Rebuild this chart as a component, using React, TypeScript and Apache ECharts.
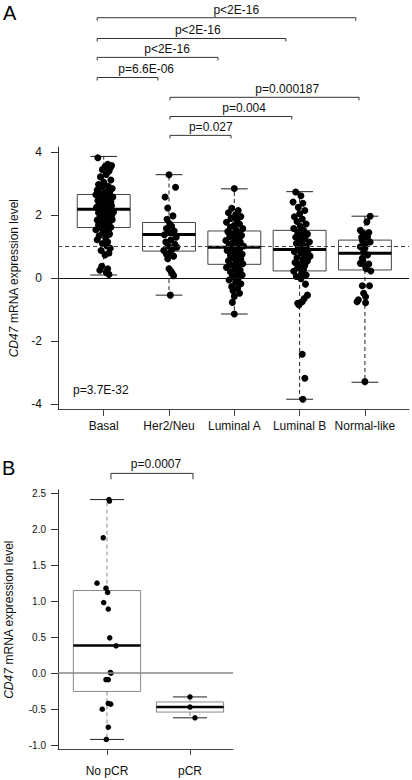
import React, { useEffect, useRef } from "react";
import * as echarts from "echarts";

const FONT = "'Liberation Sans', Arial, Helvetica, sans-serif";

// ---------- Panel A data ----------
const groupsA = ["Basal", "Her2/Neu", "Luminal A", "Luminal B", "Normal-like"];
// [min, q1, median, q3, max]
const boxStatsA = [
  [0.1, 1.61, 2.19, 2.66, 3.87],
  [-0.54, 0.86, 1.39, 1.77, 3.29],
  [-1.14, 0.44, 0.98, 1.5, 2.84],
  [-3.85, 0.23, 0.91, 1.52, 2.75],
  [-3.31, 0.26, 0.79, 1.21, 1.97],
];
// [horizontal jitter, value]
const basalPts = [
  [-0.09, 3.83], [0.06, 3.62], [0.12, 3.58], [0.02, 3.55], [0.1, 3.5], [-0.02, 3.45], [0.08, 3.4], [0.04, 3.3],
  [-0.05, 3.22], [0.11, 3.12], [0.0, 3.05], [-0.08, 2.98], [0.07, 2.92], [-0.03, 2.9], [0.13, 2.85], [-0.1, 2.8],
  [0.03, 2.75], [0.09, 2.72], [-0.06, 2.7], [0.01, 2.68], [-0.12, 2.65], [0.05, 2.62], [0.14, 2.58], [-0.04, 2.55],
  [0.08, 2.5], [-0.09, 2.46], [0.02, 2.45], [0.11, 2.42], [-0.01, 2.38], [0.06, 2.35], [-0.07, 2.35], [0.12, 2.3],
  [0.0, 2.26], [-0.11, 2.25], [0.04, 2.22], [0.09, 2.2], [-0.05, 2.16], [0.02, 2.12], [0.15, 2.1], [-0.08, 2.08],
  [0.06, 2.04], [0.12, 2.0], [-0.02, 1.97], [0.1, 1.95], [-0.06, 1.93], [0.03, 1.9], [0.13, 1.86], [-0.1, 1.85],
  [0.05, 1.82], [-0.03, 1.78], [0.08, 1.74], [-0.08, 1.7], [0.01, 1.66], [0.11, 1.62], [-0.05, 1.6], [0.04, 1.58],
  [-0.12, 1.54], [0.07, 1.5], [-0.01, 1.45], [0.09, 1.4], [-0.07, 1.35], [0.03, 1.28], [-0.1, 1.22], [0.06, 1.15],
  [-0.02, 1.1], [0.05, 1.02], [0.1, 0.95], [-0.04, 0.88], [0.08, 0.8], [0.02, 0.74], [-0.03, 0.38], [0.06, 0.3],
  [-0.06, 0.25], [0.04, 0.18], [0.08, 0.12],
];
const her2Pts = [
  [0.0, 3.29], [0.1, 2.89], [-0.06, 2.58], [-0.02, 2.23], [0.06, 1.98], [-0.03, 1.87], [0.01, 1.73], [0.04, 1.65],
  [-0.04, 1.58], [0.08, 1.5], [0.0, 1.45], [-0.07, 1.38], [0.11, 1.3], [0.03, 1.22], [-0.05, 1.15], [0.09, 1.08],
  [-0.01, 1.02], [0.12, 0.98], [0.05, 0.92], [-0.08, 0.88], [0.02, 0.82], [-0.04, 0.76], [0.07, 0.7], [-0.02, 0.62],
  [0.0, 0.3], [0.03, 0.22], [0.05, 0.15], [0.07, 0.08], [0.02, -0.54],
];
const lumAPts = [
  [0.0, 2.85], [-0.04, 2.22], [0.06, 2.15], [-0.09, 2.08], [0.02, 2.02], [0.1, 1.96], [-0.05, 1.9], [0.04, 1.85],
  [-0.12, 1.78], [0.08, 1.72], [0.0, 1.68], [-0.06, 1.62], [0.13, 1.58], [0.03, 1.52], [-0.1, 1.48], [0.07, 1.44],
  [-0.02, 1.4], [0.11, 1.36], [-0.07, 1.32], [0.05, 1.28], [0.01, 1.24], [-0.13, 1.2], [0.09, 1.16], [-0.03, 1.12],
  [0.06, 1.08], [-0.08, 1.05], [0.14, 1.02], [0.02, 0.98], [-0.05, 0.95], [0.08, 0.92], [-0.11, 0.88], [0.04, 0.85],
  [0.0, 0.8], [0.12, 0.76], [-0.06, 0.72], [0.06, 0.68], [-0.02, 0.64], [0.1, 0.6], [-0.09, 0.55], [0.03, 0.5],
  [0.13, 0.46], [-0.04, 0.42], [0.07, 0.38], [-0.12, 0.34], [0.01, 0.3], [0.09, 0.25], [-0.06, 0.2], [0.04, 0.15],
  [0.12, 0.1], [-0.03, 0.05], [0.06, 0.0], [-0.08, -0.06], [0.02, -0.12], [0.1, -0.18], [-0.04, -0.27], [0.05, -0.32],
  [-0.02, -0.4], [0.08, -0.48], [0.0, -0.58], [-0.03, -0.77], [0.0, -1.14],
];
const lumBPts = [
  [-0.06, 2.74], [0.02, 2.62], [-0.1, 2.42], [0.05, 2.38], [-0.02, 2.25], [0.08, 2.15], [0.0, 2.05], [-0.08, 1.95],
  [0.04, 1.88], [-0.04, 1.8], [0.1, 1.72], [0.01, 1.65], [-0.09, 1.58], [0.06, 1.52], [-0.03, 1.46], [0.12, 1.4],
  [0.03, 1.35], [-0.06, 1.3], [0.08, 1.25], [0.0, 1.2], [0.15, 1.15], [-0.05, 1.1], [0.05, 1.05], [0.1, 1.0],
  [-0.02, 0.96], [0.07, 0.92], [0.13, 0.88], [-0.08, 0.84], [0.02, 0.8], [0.09, 0.75], [0.16, 0.7], [-0.04, 0.65],
  [0.05, 0.6], [0.12, 0.55], [-0.07, 0.5], [0.01, 0.45], [0.08, 0.4], [-0.03, 0.34], [0.06, 0.28], [-0.09, 0.22],
  [0.03, 0.16], [0.1, 0.1], [-0.05, 0.05], [0.02, -0.02], [0.09, -0.19], [0.12, -0.54], [0.07, -0.65],
  [-0.03, -0.8], [0.04, -0.75], [-0.01, -0.85], [0.04, -2.42], [0.08, -3.18], [0.05, -3.85],
];
const normalPts = [
  [0.08, 1.97], [0.03, 1.79], [-0.07, 1.52], [0.06, 1.45], [-0.02, 1.41], [0.04, 1.31], [-0.05, 1.3], [-0.04, 1.2],
  [0.08, 1.15], [0.01, 1.09], [-0.07, 1.0], [0.0, 0.95], [-0.02, 0.84], [0.04, 0.74], [-0.04, 0.63], [-0.03, 0.55],
  [-0.07, 0.47], [0.06, 0.45], [0.01, 0.36], [0.02, 0.3], [0.09, 0.23], [-0.04, -0.24], [0.07, -0.24],
  [-0.02, -0.48], [0.01, -0.59], [-0.1, -0.69], [-0.12, -0.75], [0.01, -0.78], [0.0, -3.29],
];
const pointsA = [basalPts, her2Pts, lumAPts, lumBPts, normalPts];

// brackets: [from x, to x, level (y value), label x]
const bracketsA = [
  [-0.1, 3.86, 8.28, 2.03],
  [-0.1, 2.79, 7.62, 1.44],
  [-0.1, 1.75, 7.02, 0.97],
  [-0.1, 0.83, 6.38, 0.65],
  [1.015, 3.91, 5.75, 2.81],
  [1.015, 2.88, 5.14, 2.15],
  [1.015, 1.95, 4.54, 1.64],
];
const bracketLabelsA = ["p<2E-16", "p<2E-16", "p<2E-16", "p=6.6E-06", "p=0.000187", "p=0.004", "p=0.027"];
const yTicksA = [-4, -2, 0, 2, 4];
const overallP = "p=3.7E-32";

// ---------- Panel B data ----------
const groupsB = ["No pCR", "pCR"];
const boxStatsB = [
  [-0.92, -0.254, 0.384, 1.147, 2.41],
  [-0.62, -0.54, -0.47, -0.4, -0.33],
];
const noPcrPts = [
  [0.024, 2.41], [0.03, 2.39], [-0.045, 1.88], [-0.12, 1.25], [-0.012, 1.18], [0.008, 1.12], [-0.04, 0.98],
  [0.016, 0.89], [0.033, 0.49], [0.11, 0.38], [0.04, 0.01], [0.048, 0.0], [-0.012, -0.09], [0.016, -0.09],
  [0.016, -0.42], [0.045, -0.43], [-0.057, -0.5], [0.016, -0.75], [-0.008, -0.92],
];
const pcrPts = [[0.0, -0.33], [0.0, -0.47], [0.06, -0.62]];
const pointsB = [noPcrPts, pcrPts];
const bracketsB = [[0.048, 1.036, 2.774, 0.59]];
const bracketLabelsB = ["p=0.0007"];
const yTicksB = [-1, -0.5, 0, 0.5, 1, 1.5, 2, 2.5];

const BOX_W = 0.81;
const CAP_W = 0.41;

function boxRenderer(boxColor: string, whiskerColor: string, capColor: string, medW: number) {
  return (params: any, api: any) => {
    const x = api.value(0);
    const mn = api.coord([x, api.value(1)]);
    const q1 = api.coord([x, api.value(2)]);
    const md = api.coord([x, api.value(3)]);
    const q3 = api.coord([x, api.value(4)]);
    const mx = api.coord([x, api.value(5)]);
    const bw = api.size([BOX_W, 0])[0];
    const cw = api.size([CAP_W, 0])[0];
    const cx = md[0];
    return {
      type: "group",
      children: [
        { type: "line", shape: { x1: cx, y1: q3[1], x2: cx, y2: mx[1] }, style: { stroke: whiskerColor, lineWidth: 1, lineDash: [4, 3] } },
        { type: "line", shape: { x1: cx, y1: q1[1], x2: cx, y2: mn[1] }, style: { stroke: whiskerColor, lineWidth: 1, lineDash: [4, 3] } },
        { type: "line", shape: { x1: cx - cw / 2, y1: mx[1], x2: cx + cw / 2, y2: mx[1] }, style: { stroke: capColor, lineWidth: 1 } },
        { type: "line", shape: { x1: cx - cw / 2, y1: mn[1], x2: cx + cw / 2, y2: mn[1] }, style: { stroke: capColor, lineWidth: 1 } },
        { type: "rect", shape: { x: cx - bw / 2, y: q3[1], width: bw, height: q1[1] - q3[1] }, style: { fill: "none", stroke: boxColor, lineWidth: 1 } },
        { type: "line", shape: { x1: cx - bw / 2, y1: md[1], x2: cx + bw / 2, y2: md[1] }, style: { stroke: "#000", lineWidth: medW } },
      ],
    };
  };
}

function bracketRenderer(labels: string[], tick: number, gap: number) {
  return (params: any, api: any) => {
    const y = api.value(2);
    const a = api.coord([api.value(0), y]);
    const b = api.coord([api.value(1), y]);
    const t = api.coord([api.value(3), y]);
    return {
      type: "group",
      children: [
        {
          type: "polyline",
          shape: { points: [[a[0], a[1] + tick], [a[0], a[1]], [b[0], b[1]], [b[0], b[1] + tick]] },
          style: { stroke: "#333", lineWidth: 1, fill: "none" },
        },
        {
          type: "text",
          x: t[0],
          y: t[1] - gap,
          style: { text: labels[params.dataIndex], fontSize: 12, fontFamily: FONT, fill: "#111", align: "center", verticalAlign: "middle" },
        },
      ],
    };
  };
}

export default function App() {
  const ref = useRef<HTMLDivElement>(null);
  useEffect(() => {
    if (!ref.current) return;
    const chart = echarts.init(ref.current, null, { renderer: "svg" });

    const scatterA = pointsA.flatMap((pts, i) => pts.map(([dx, v]) => [i + dx, v]));
    const scatterB = pointsB.flatMap((pts, i) => pts.map(([dx, v]) => [i + dx, v]));

    const nameStyle = {
      fontSize: 12,
      fontFamily: FONT,
      color: "#111",
      rich: { i: { fontStyle: "italic", fontSize: 12, fontFamily: FONT, color: "#111" } },
    };

    const option: any = {
      animation: false,
      backgroundColor: "#fff",
      textStyle: { fontFamily: FONT },
      grid: [
        { left: 58, top: 147, width: 351, height: 262, containLabel: false, outerBoundsMode: "none" },
        { left: 58, top: 490, width: 175, height: 259, containLabel: false, outerBoundsMode: "none" },
      ],
      xAxis: [
        {
          type: "value",
          gridIndex: 0,
          min: -0.7,
          max: 4.675,
          splitLine: { show: false },
          axisLine: { show: true, onZero: false, lineStyle: { color: "#444", width: 1 } },
          axisTick: { show: true, length: 7, customValues: [0, 1, 2, 3, 4], lineStyle: { color: "#444" } },
          axisLabel: {
            customValues: [0, 1, 2, 3, 4],
            formatter: (v: number) => groupsA[Math.round(v)],
            fontSize: 12,
            fontFamily: FONT,
            color: "#111",
            margin: 11,
          },
        },
        {
          type: "value",
          gridIndex: 1,
          min: -0.59,
          max: 1.518,
          splitLine: { show: false },
          axisLine: { show: true, onZero: false, lineStyle: { color: "#444", width: 1 } },
          axisTick: { show: true, length: 6, customValues: [0, 1], lineStyle: { color: "#444" } },
          axisLabel: {
            customValues: [0, 1],
            formatter: (v: number) => groupsB[Math.round(v)],
            fontSize: 12,
            fontFamily: FONT,
            color: "#111",
            margin: 16,
          },
        },
      ],
      yAxis: [
        {
          type: "value",
          gridIndex: 0,
          min: -4.16,
          max: 4.17,
          splitLine: { show: false },
          axisLine: { show: true, onZero: false, lineStyle: { color: "#333", width: 1 } },
          axisTick: { show: true, length: 7, customValues: yTicksA, lineStyle: { color: "#333" } },
          axisLabel: { customValues: yTicksA, fontSize: 12, fontFamily: FONT, color: "#111", margin: 16 },
          name: "{i|CD47} mRNA expression level",
          nameLocation: "middle",
          nameGap: 37,
          nameTextStyle: nameStyle,
        },
        {
          type: "value",
          gridIndex: 1,
          min: -1.053,
          max: 2.543,
          splitLine: { show: false },
          axisLine: { show: true, onZero: false, lineStyle: { color: "#333", width: 1 } },
          axisTick: { show: true, length: 7, customValues: yTicksB, lineStyle: { color: "#333" } },
          axisLabel: {
            customValues: yTicksB,
            formatter: (v: number) => v.toFixed(1),
            fontSize: 10,
            fontFamily: FONT,
            color: "#111",
            margin: 12,
          },
          name: "{i|CD47} mRNA expression level",
          nameLocation: "middle",
          nameGap: 43,
          nameTextStyle: nameStyle,
        },
      ],
      series: [
        {
          type: "custom",
          xAxisIndex: 0,
          yAxisIndex: 0,
          z: 2,
          silent: true,
          renderItem: boxRenderer("#444", "#222", "#222", 3),
          data: boxStatsA.map((s, i) => [i, ...s]),
          markLine: {
            silent: true,
            symbol: ["none", "none"],
            label: { show: false },
            data: [
              { yAxis: 0, lineStyle: { color: "#111", width: 1, type: "solid" } },
              { yAxis: 1, lineStyle: { color: "#444", width: 1, type: [4, 3] } },
            ],
          },
        },
        {
          type: "scatter",
          xAxisIndex: 0,
          yAxisIndex: 0,
          z: 3,
          silent: true,
          symbolSize: 7,
          itemStyle: { color: "#000", opacity: 1 },
          data: scatterA,
        },
        {
          type: "custom",
          xAxisIndex: 0,
          yAxisIndex: 0,
          clip: false,
          silent: true,
          renderItem: bracketRenderer(bracketLabelsA, 3, 8),
          data: bracketsA,
        },
        {
          type: "custom",
          xAxisIndex: 1,
          yAxisIndex: 1,
          z: 2,
          silent: true,
          renderItem: boxRenderer("#888", "#888", "#222", 2.5),
          data: boxStatsB.map((s, i) => [i, ...s]),
          markLine: {
            silent: true,
            symbol: ["none", "none"],
            label: { show: false },
            data: [{ yAxis: 0, lineStyle: { color: "#888", width: 1.5, type: "solid" } }],
          },
        },
        {
          type: "scatter",
          xAxisIndex: 1,
          yAxisIndex: 1,
          z: 3,
          silent: true,
          symbolSize: 5.5,
          itemStyle: { color: "#000", opacity: 1 },
          data: scatterB,
        },
        {
          type: "custom",
          xAxisIndex: 1,
          yAxisIndex: 1,
          clip: false,
          silent: true,
          renderItem: bracketRenderer(bracketLabelsB, 6, 9),
          data: bracketsB,
        },
      ],
      graphic: [
        { type: "text", left: 3, top: 3, style: { text: "A", fontSize: 20, fontFamily: FONT, fill: "#000" } },
        { type: "text", left: 2, top: 458, style: { text: "B", fontSize: 20, fontFamily: FONT, fill: "#000" } },
        { type: "text", left: 73, top: 384, style: { text: overallP, fontSize: 12, fontFamily: FONT, fill: "#111" } },
      ],
    };
    chart.setOption(option);
    return () => chart.dispose();
  }, []);
  return <div ref={ref} style={{ position: "absolute", left: 0, top: 0, width: 412, height: 780, background: "#fff" }} />;
}
